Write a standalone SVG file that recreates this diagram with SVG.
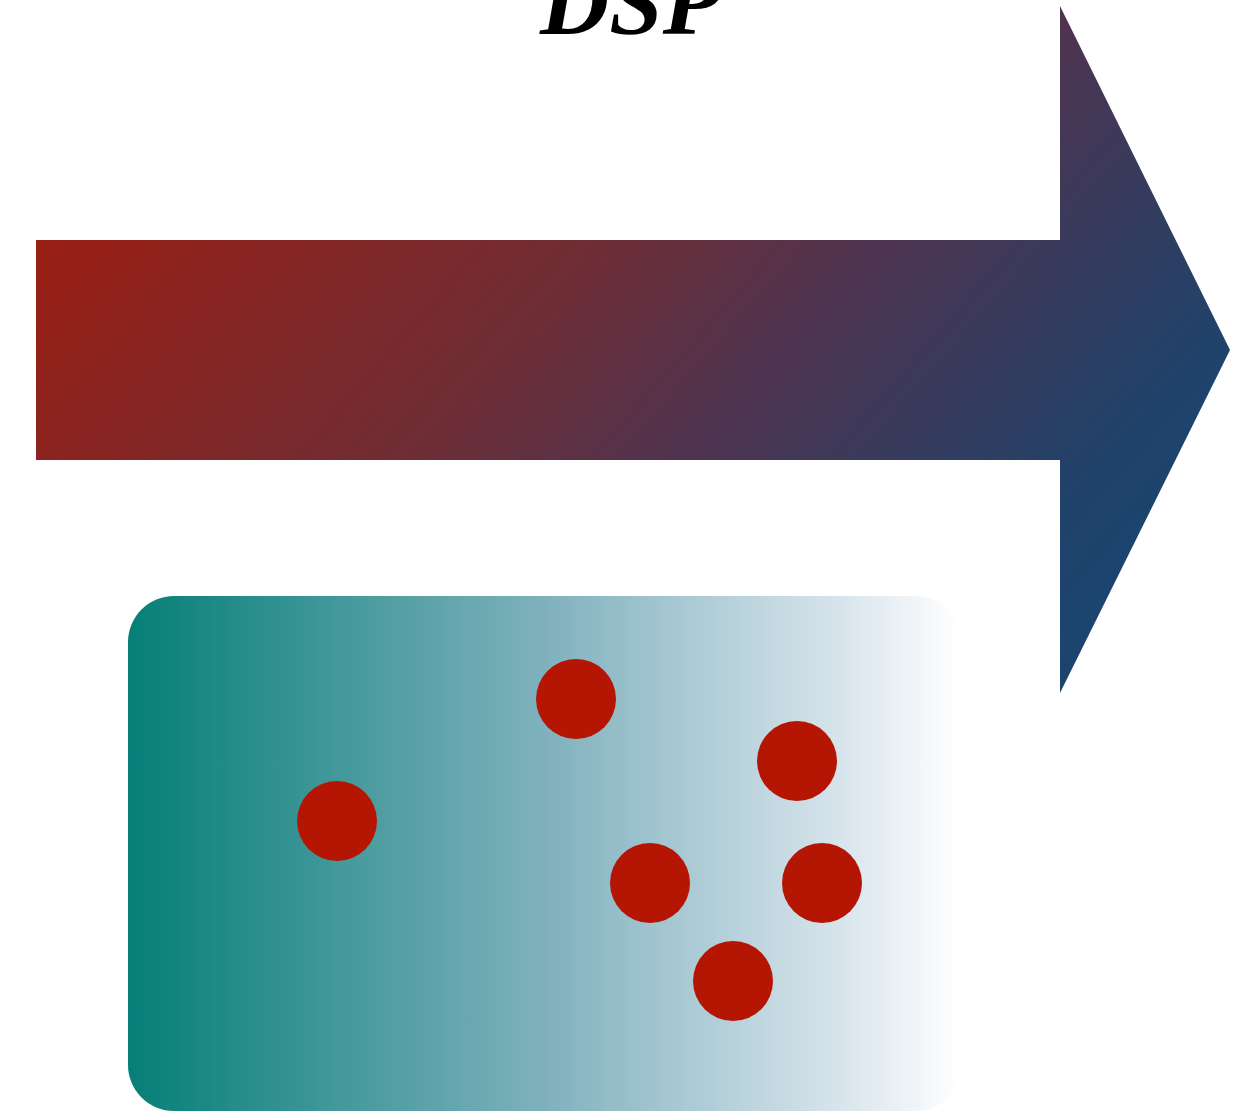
<svg xmlns="http://www.w3.org/2000/svg" width="1240" height="1113" viewBox="0 0 1240 1113">
<style>
.dot{fill:#b51603}
.title{font-family:"Liberation Serif",serif;font-style:italic;font-weight:bold;font-size:96px;fill:#000}
</style>
<defs>
<linearGradient id="ag" gradientUnits="userSpaceOnUse" x1="36" y1="240" x2="836" y2="944">
<stop offset="0" stop-color="#9a1f14"/>
<stop offset="0.4" stop-color="#6e2d35"/>
<stop offset="0.59" stop-color="#4f3450"/>
<stop offset="0.89" stop-color="#20426a"/>
<stop offset="1" stop-color="#1a4570"/>
</linearGradient>
<linearGradient id="bg" gradientUnits="userSpaceOnUse" x1="128" y1="0" x2="960" y2="0">
<stop offset="0" stop-color="#057f77"/>
<stop offset="0.5" stop-color="#7fb1bd"/>
<stop offset="0.85" stop-color="#d6e3eb"/>
<stop offset="1" stop-color="#ffffff"/>
</linearGradient>
</defs>
<g id="title"><text class="title" x="540" y="34">DSP</text></g>
<g id="arrow"><polygon points="36,240 1060,240 1060,6 1230,350 1060,693 1060,460 36,460" fill="url(#ag)"/></g>
<g id="box"><rect x="128" y="596" width="834" height="515" rx="46" fill="url(#bg)"/></g>
<g id="dots">
<circle class="dot" cx="576" cy="699" r="40"/>
<circle class="dot" cx="797" cy="761" r="40"/>
<circle class="dot" cx="337" cy="821" r="40"/>
<circle class="dot" cx="650" cy="883" r="40"/>
<circle class="dot" cx="822" cy="883" r="40"/>
<circle class="dot" cx="733" cy="981" r="40"/>
</g>
</svg>
